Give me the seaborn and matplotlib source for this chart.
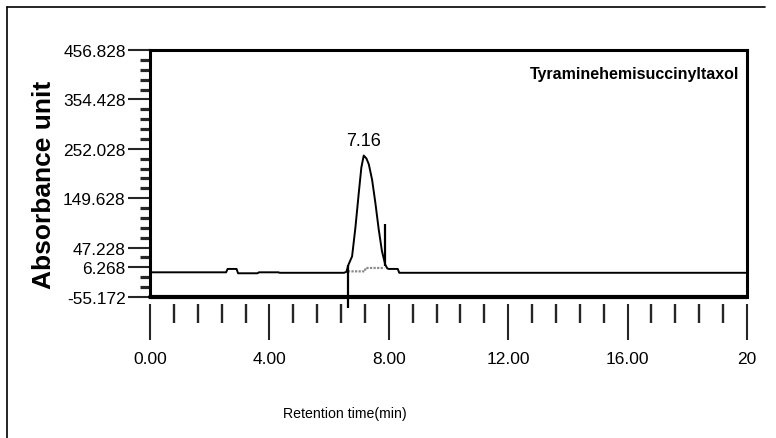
import numpy as np
import pandas as pd
import matplotlib
matplotlib.use("Agg")
import matplotlib.pyplot as plt
from matplotlib.lines import Line2D
from matplotlib.ticker import FixedLocator, FixedFormatter
import seaborn as sns

# ---- data ----
time_min = [0.0, 2.55, 2.6, 2.9, 2.95, 3.6, 3.65, 4.3, 4.35, 6.5, 6.58, 6.65,
            6.77, 6.88, 6.99, 7.08, 7.16, 7.25, 7.33, 7.44, 7.55, 7.66, 7.77,
            7.88, 7.95, 8.0, 8.3, 8.35, 20.0]
absorbance = [-4, -4, 3, 3, -6, -6, -4, -4, -5, -5, -3, 12,
              29, 88, 158, 213, 238, 232, 220, 188, 140, 86, 40,
              12, 4, 3, 3, -5, -5]

integ_time = [6.63, 7.2, 7.22, 7.85]
integ_abs = [-2, -2, 5, 5]

marker_time = [6.63, 7.86]
marker_top = [12, 97]
marker_bottom = [-78, 9]

peak_rt = 7.16
peak_height = 238

ytick_vals = [456.828, 354.428, 252.028, 149.628, 47.228, 6.268, -55.172]
ytick_labels = ["456.828", "354.428", "252.028", "149.628", "47.228", "6.268", "-55.172"]
yminor_vals = [-55.172 + 20.48 * k for k in range(26)]
xtick_vals = [0, 4, 8, 12, 16, 20]
xtick_labels = ["0.00", "4.00", "8.00", "12.00", "16.00", "20"]
xminor_vals = [0.8 * k for k in range(26)]
title_text = "Tyraminehemisuccinyltaxol"

sns.set_style("white")
plt.rcParams['font.family'] = ['Liberation Sans', 'DejaVu Sans']

fig = plt.figure(figsize=(7.76, 4.39), dpi=100)
ax = fig.add_axes([150/776, 1 - 298/439, (747-150)/776, (298-51)/439])

df = pd.DataFrame({"t": time_min, "a": absorbance})
sns.lineplot(data=df, x="t", y="a", ax=ax, color="black", lw=1.4, estimator=None, sort=False)
ax.plot(integ_time, integ_abs, color="#8a8a8a", lw=1.6, ls=(0, (1, 0.6)))
ax.vlines(marker_time, marker_bottom, marker_top, color="black", lw=1.6, clip_on=False)

ax.text(peak_rt, peak_height + 13, f"{peak_rt:.2f}", ha="center", va="bottom",
        fontsize=13, color="black")
ax.text(0.9866, 0.905, title_text, transform=ax.transAxes, ha="right", va="center",
        fontsize=11.5, fontweight="bold", color="black")

ax.set_xlim(0, 20)
ax.set_ylim(-55.172, 456.828)

# y ticks
ax.yaxis.set_major_locator(FixedLocator(ytick_vals))
ax.yaxis.set_major_formatter(FixedFormatter(ytick_labels))
ax.yaxis.set_minor_locator(FixedLocator(yminor_vals))
ax.tick_params(axis="y", which="major", direction="out", length=16, width=1.5, pad=1.5,
               labelsize=12.4, left=True, labelcolor="black")
ax.tick_params(axis="y", which="minor", direction="out", length=7.5, width=2.3, left=True)

# x ticks
ax.xaxis.set_major_locator(FixedLocator(xtick_vals))
ax.xaxis.set_major_formatter(FixedFormatter(xtick_labels))
ax.xaxis.set_minor_locator(FixedLocator(xminor_vals))
ax.tick_params(axis="x", which="major", direction="out", length=26, width=1.5, pad=8,
               labelsize=12.5, bottom=True, labelcolor="black")
ax.tick_params(axis="x", which="minor", direction="out", length=14, width=1.7, bottom=True)

ax.spines["bottom"].set_position(("outward", 5))
ax.spines["bottom"].set_visible(False)
for s in ["left", "top", "right"]:
    ax.spines[s].set_linewidth(2.2)
    ax.spines[s].set_color("black")
ax.axhline(-55.172, color="black", lw=3, clip_on=False)

ax.set_xlabel("Retention time(min)", fontsize=10.2, color="black")
ax.xaxis.set_label_coords((345-150)/(747-150), -0.44)
ax.set_ylabel("Absorbance unit", fontsize=19, fontweight="bold", color="black")
ax.yaxis.set_label_coords(-(150-56)/(747-150), (298-185)/(298-51))

# outer frame (left and top edges)
fig.add_artist(Line2D([7/776, 7/776], [0, 1 - 8/439], color="black", lw=1.2))
fig.add_artist(Line2D([7/776, 765/776], [1 - 8/439, 1 - 8/439], color="black", lw=1.2))

fig.savefig("out.png", dpi=100)
